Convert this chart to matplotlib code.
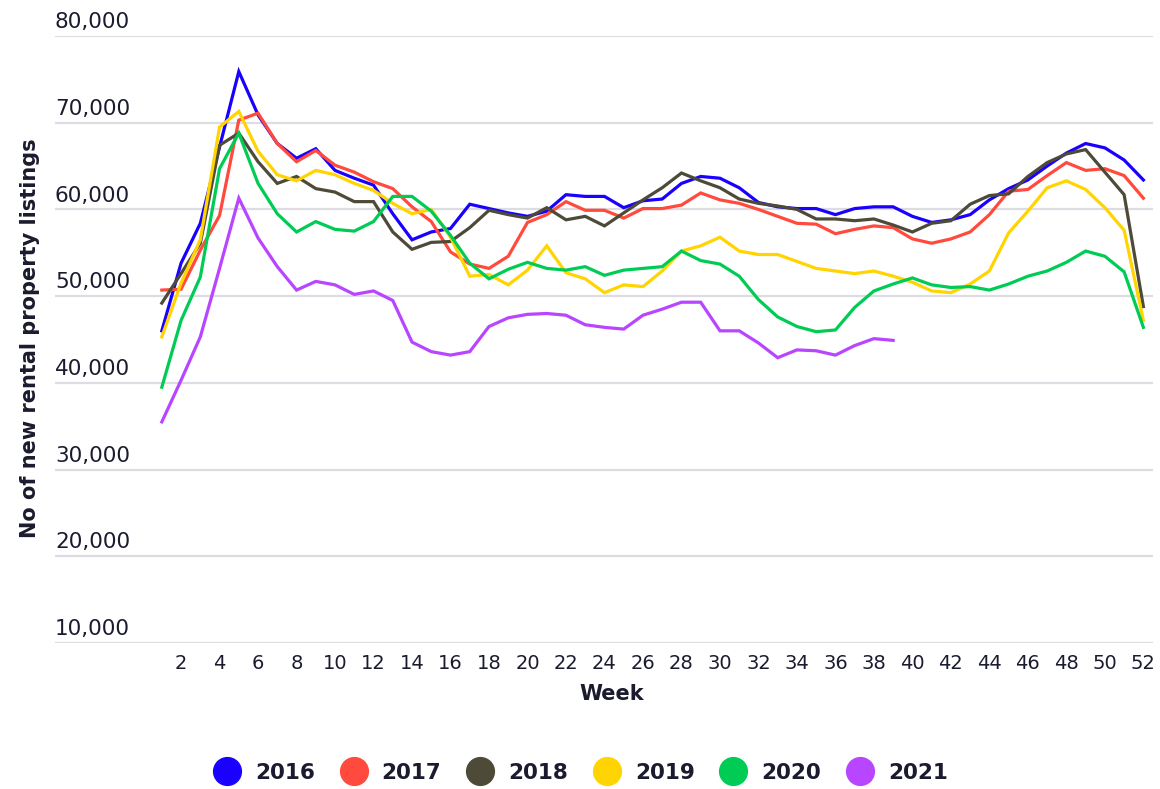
import matplotlib
matplotlib.use("Agg")
import matplotlib.pyplot as plt
from matplotlib.lines import Line2D

weeks = list(range(1, 53))

y2016 = [46000, 53800, 58400, 67200, 75900, 70900, 67600, 65900, 67000, 64500,
         63600, 62800, 59500, 56500, 57400, 57800, 60600, 60100, 59600, 59200,
         59800, 61700, 61500, 61500, 60200, 61000, 61200, 63000, 63800, 63600,
         62500, 60800, 60300, 60100, 60100, 59400, 60100, 60300, 60300, 59200,
         58500, 58800, 59400, 61100, 62400, 63400, 65000, 66500, 67600, 67100,
         65700, 63400]
y2017 = [50700, 50800, 55300, 59300, 70300, 71100, 67600, 65500, 66800, 65100,
         64300, 63200, 62400, 60300, 58600, 55100, 53700, 53200, 54600, 58500,
         59400, 60900, 59900, 59900, 59000, 60100, 60100, 60500, 61900, 61100,
         60700, 60000, 59200, 58400, 58300, 57200, 57700, 58100, 57900, 56600,
         56100, 56600, 57400, 59400, 62100, 62300, 63900, 65400, 64500, 64700,
         63900, 61300]
y2018 = [49200, 52600, 56100, 67400, 68800, 65500, 63000, 63800, 62400, 62000,
         60900, 60900, 57400, 55400, 56200, 56300, 57900, 59900, 59400, 59000,
         60200, 58800, 59200, 58100, 59600, 61100, 62500, 64200, 63300, 62500,
         61200, 60700, 60400, 60000, 58900, 58900, 58700, 58900, 58200, 57400,
         58400, 58700, 60600, 61600, 61800, 63800, 65400, 66400, 66900, 64300,
         61700, 48800]
y2019 = [45300, 51500, 56500, 69500, 71300, 66700, 64000, 63300, 64500, 64000,
         63000, 62200, 60700, 59500, 60000, 56800, 52300, 52500, 51300, 53000,
         55800, 52700, 52000, 50400, 51300, 51100, 52900, 55200, 55800, 56800,
         55200, 54800, 54800, 54000, 53200, 52900, 52600, 52900, 52300, 51600,
         50600, 50400, 51400, 52900, 57300, 59800, 62500, 63300, 62300, 60200,
         57600, 47200]
y2020 = [39500, 47200, 52200, 64700, 68800, 63000, 59500, 57400, 58600, 57700,
         57500, 58600, 61500, 61500, 59800, 57000, 53800, 52000, 53100, 53900,
         53200, 53000, 53400, 52400, 53000, 53200, 53400, 55200, 54100, 53700,
         52300, 49600, 47600, 46500, 45900, 46100, 48700, 50600, 51400, 52100,
         51300, 51000, 51100, 50700, 51400, 52300, 52900, 53900, 55200, 54600,
         52800, 46400]
y2021 = [35500, 40300, 45300, 53200, 61300, 56700, 53400, 50700, 51700, 51300,
         50200, 50600, 49500, 44700, 43600, 43200, 43600, 46500, 47500, 47900,
         48000, 47800, 46700, 46400, 46200, 47800, 48500, 49300, 49300, 46000,
         46000, 44600, 42900, 43800, 43700, 43200, 44300, 45100, 44900]

years = ["2016", "2017", "2018", "2019", "2020", "2021"]
series = [y2016, y2017, y2018, y2019, y2020, y2021]
colors = ["#1a00ff", "#ff4a3d", "#4d4a38", "#ffd400", "#00cc55", "#b845ff"]

yticks = [10000, 20000, 30000, 40000, 50000, 60000, 70000, 80000]
xticks = list(range(2, 53, 2))

text_col = "#1b1b2f"

fig = plt.figure(figsize=(11.6, 7.89), dpi=100)
ax = fig.add_axes([55 / 1160, 1 - 643 / 789, (1153 - 55) / 1160, (643 - 36) / 789])

for ys, c in zip(series, colors):
    ax.plot(weeks[:len(ys)], ys, color=c, lw=2.3, solid_joinstyle="miter", zorder=3)

ax.set_xlim(-4.55, 52.5)
ax.set_ylim(10000, 80000)
ax.set_yticks(yticks)
ax.set_yticklabels([])
ax.grid(axis="y", color="#dcdce2", lw=1.6)
ax.set_axisbelow(True)
ax.set_xticks(xticks)
ax.set_xticklabels([str(t) for t in xticks], fontsize=14, color=text_col)
ax.tick_params(length=0, pad=8)
for s in ax.spines.values():
    s.set_visible(False)

# y labels sit just above their gridline, at the left end
for t in yticks:
    ax.text(-4.55, t + 450, f"{t:,}", fontsize=15.5, color=text_col,
            ha="left", va="bottom", clip_on=False)

ax.set_xlabel("Week", fontsize=15, fontweight="bold", color=text_col)
ax.xaxis.set_label_coords((612 - 55) / (1153 - 55), -0.068)

fig.text(30 / 1160, 1 - 338 / 789, "No of new rental property listings",
         rotation=90, fontsize=15, fontweight="bold", color=text_col,
         ha="center", va="center")

handles = [Line2D([], [], ls="none", marker="o", markersize=20, color=c) for c in colors]
leg = fig.legend(handles, years, loc="center", bbox_to_anchor=(581 / 1160, 1 - 773 / 789),
                 ncol=6, frameon=False, handlelength=1.2, handletextpad=0.7,
                 columnspacing=1.2, prop={"size": 15.5, "weight": "bold"})
for t in leg.get_texts():
    t.set_color(text_col)

fig.savefig("out.png", dpi=100)
